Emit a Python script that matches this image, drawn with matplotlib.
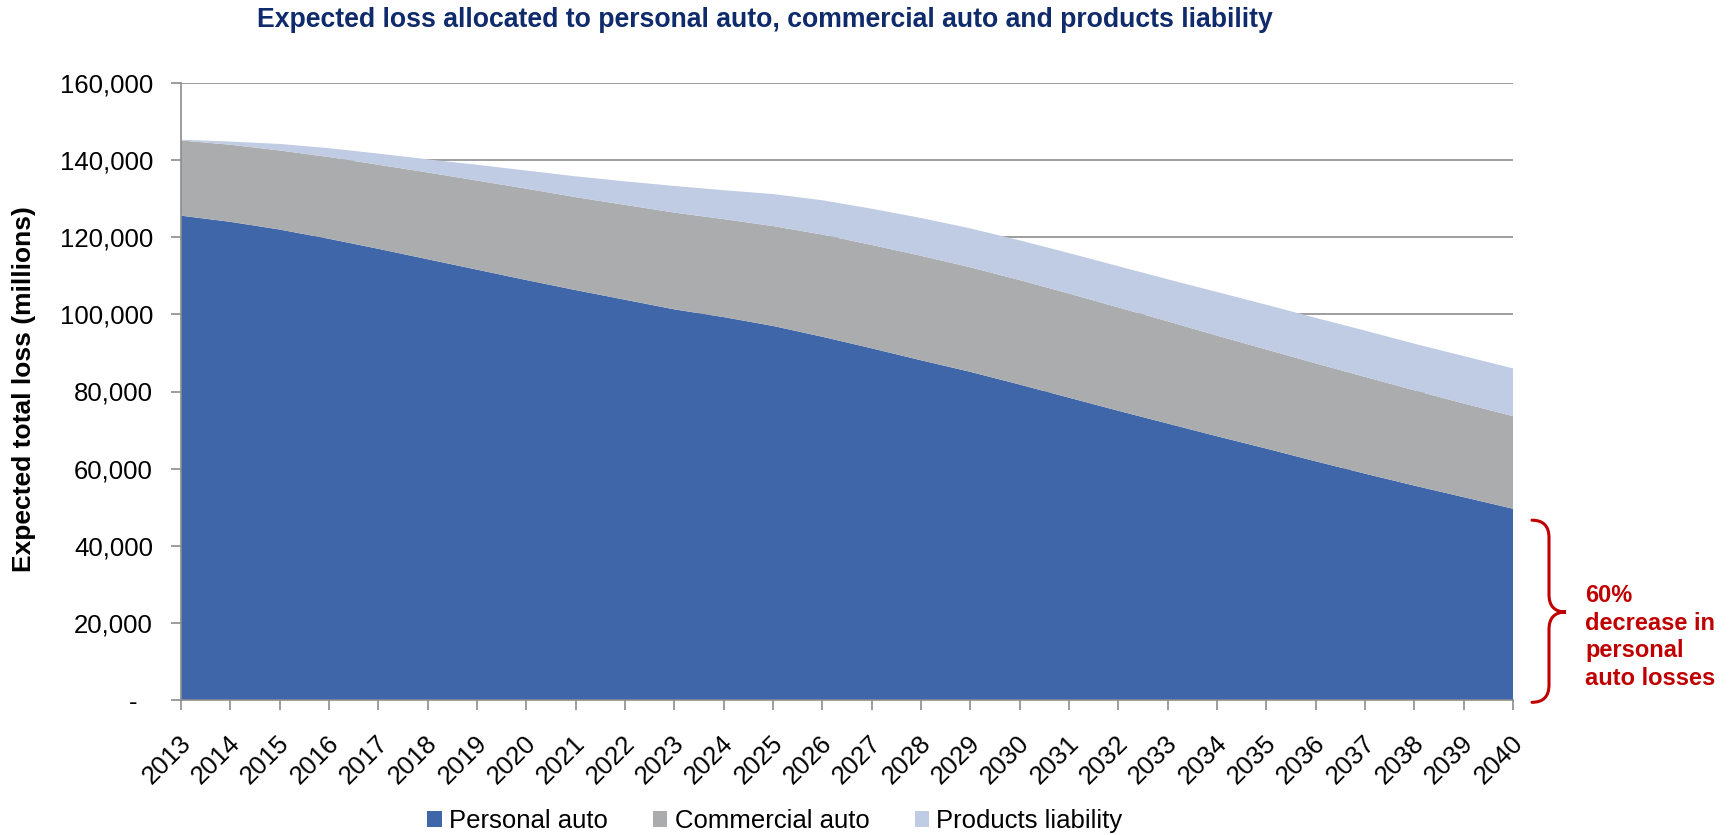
import matplotlib
matplotlib.use("Agg")
import matplotlib.pyplot as plt
from matplotlib.path import Path
from matplotlib.patches import PathPatch, Patch
from matplotlib.transforms import ScaledTranslation, blended_transform_factory

plt.rcParams['font.family'] = ['Liberation Sans', 'DejaVu Sans']

# ---- data (expected loss, millions) ----
years = list(range(2013, 2041))
personal_auto = [125600, 124000, 122000, 119600, 117000, 114300, 111600, 108900,
                 106300, 103800, 101300, 99300, 97000, 94200, 91200, 88100,
                 85100, 81800, 78400, 75000, 71700, 68400, 65200, 61900,
                 58700, 55600, 52600, 49600]
commercial_auto = [19500, 20000, 20500, 21200, 21800, 22500, 23100, 23700,
                   24100, 24600, 25100, 25400, 25900, 26500, 26800, 27100,
                   27100, 27100, 27000, 26800, 26500, 26100, 25700, 25400,
                   25100, 24700, 24300, 24000]
products_liability = [200, 800, 1700, 2300, 2900, 3400, 4100, 4700,
                      5400, 6100, 6900, 7500, 8300, 8900, 9400, 9800,
                      10100, 10300, 10500, 10700, 10900, 11300, 11600, 11800,
                      12000, 12100, 12300, 12400]
series_names = ["Personal auto", "Commercial auto", "Products liability"]
y_ticks = [0, 20000, 40000, 60000, 80000, 100000, 120000, 140000, 160000]

title_text = "Expected loss allocated to personal auto, commercial auto and products liability"
y_label = "Expected total loss (millions)"
note_text = "60%\ndecrease in\npersonal\nauto losses"

colors = ["#3F66A9", "#ABACAE", "#C0CCE3"]
grid_gray = "#8C8C8C"
navy = "#0F2B6B"
red = "#C00000"

W, H = 1733, 835
fig = plt.figure(figsize=(W / 100, H / 100), dpi=100)
ax = fig.add_axes([181 / W, 1 - 700 / H, (1513 - 181) / W, (700 - 83) / H])

ax.stackplot(years, personal_auto, commercial_auto, products_liability,
             colors=colors, linewidth=0, zorder=2)

ax.set_xlim(years[0], years[-1])
ax.set_ylim(0, 160000)
ax.set_yticks(y_ticks)
ax.set_yticklabels(["-" if v == 0 else f"{v:,}" for v in y_ticks])
ax.set_xticks(years)
ax.set_xticklabels([str(y) for y in years], rotation=45, ha="right", va="center",
                   rotation_mode="anchor")

ax.yaxis.grid(True, color=grid_gray, linewidth=1.2, zorder=0)
ax.set_axisbelow(True)
for side in ("top", "right"):
    ax.spines[side].set_visible(False)
for side in ("left", "bottom"):
    ax.spines[side].set_color(grid_gray)
    ax.spines[side].set_linewidth(1.2)
    ax.spines[side].set_zorder(3)

ax.tick_params(axis="y", length=7.2, width=1.2, color=grid_gray, labelsize=18.5, pad=13)
ax.tick_params(axis="x", length=7.2, width=1.2, color=grid_gray, labelsize=18.5, pad=21)

# zero is shown as an accounting-style dash, set in from the right edge
for lab in ax.get_yticklabels():
    if lab.get_text() == "-":
        lab.set_transform(lab.get_transform() + ScaledTranslation(-0.16, 0, fig.dpi_scale_trans))
for lab in ax.get_xticklabels():
    lab.set_transform(lab.get_transform() + ScaledTranslation(0.06, 0, fig.dpi_scale_trans))

# title and axis title
fig.text(765 / W, 1 - 20 / H, title_text, ha="center", va="center",
         fontsize=19.2, fontweight="bold", color=navy)
fig.text(24 / W, 1 - 389 / H, y_label, ha="center", va="center", rotation=90,
         fontsize=19, fontweight="bold", color="black")

# legend
handles = [Patch(facecolor=c, edgecolor="none") for c in colors]
fig.legend(handles, series_names, loc="center", bbox_to_anchor=(775 / W, 1 - 821 / H),
           ncol=3, frameon=False, fontsize=18.5, handlelength=0.55, handleheight=0.55,
           handletextpad=0.3, columnspacing=1.75, borderpad=0)

# curly brace spanning the 2040 personal auto value
trans = blended_transform_factory(fig.transFigure, ax.transData)
top = personal_auto[-1] * 0.94
bot = -600
mid = personal_auto[-1] * 0.46
r = 4500
x0, x1, x2 = 1532 / W, 1549 / W, 1566 / W
verts = [(x0, top), (x1, top), (x1, top - r),
         (x1, mid + r),
         (x1, mid), (x2, mid),
         (x1, mid), (x1, mid - r),
         (x1, bot + r),
         (x1, bot), (x0, bot)]
codes = [Path.MOVETO, Path.CURVE3, Path.CURVE3,
         Path.LINETO,
         Path.CURVE3, Path.CURVE3,
         Path.CURVE3, Path.CURVE3,
         Path.LINETO,
         Path.CURVE3, Path.CURVE3]
brace = PathPatch(Path(verts, codes), transform=trans, facecolor="none",
                  edgecolor=red, linewidth=2.2, clip_on=False, capstyle="round")
fig.add_artist(brace)

fig.text(1585 / W, 1 - 637 / H, note_text, ha="left", va="center", fontsize=17,
         fontweight="bold", color=red, linespacing=1.25)

fig.savefig("out.png", dpi=100)
